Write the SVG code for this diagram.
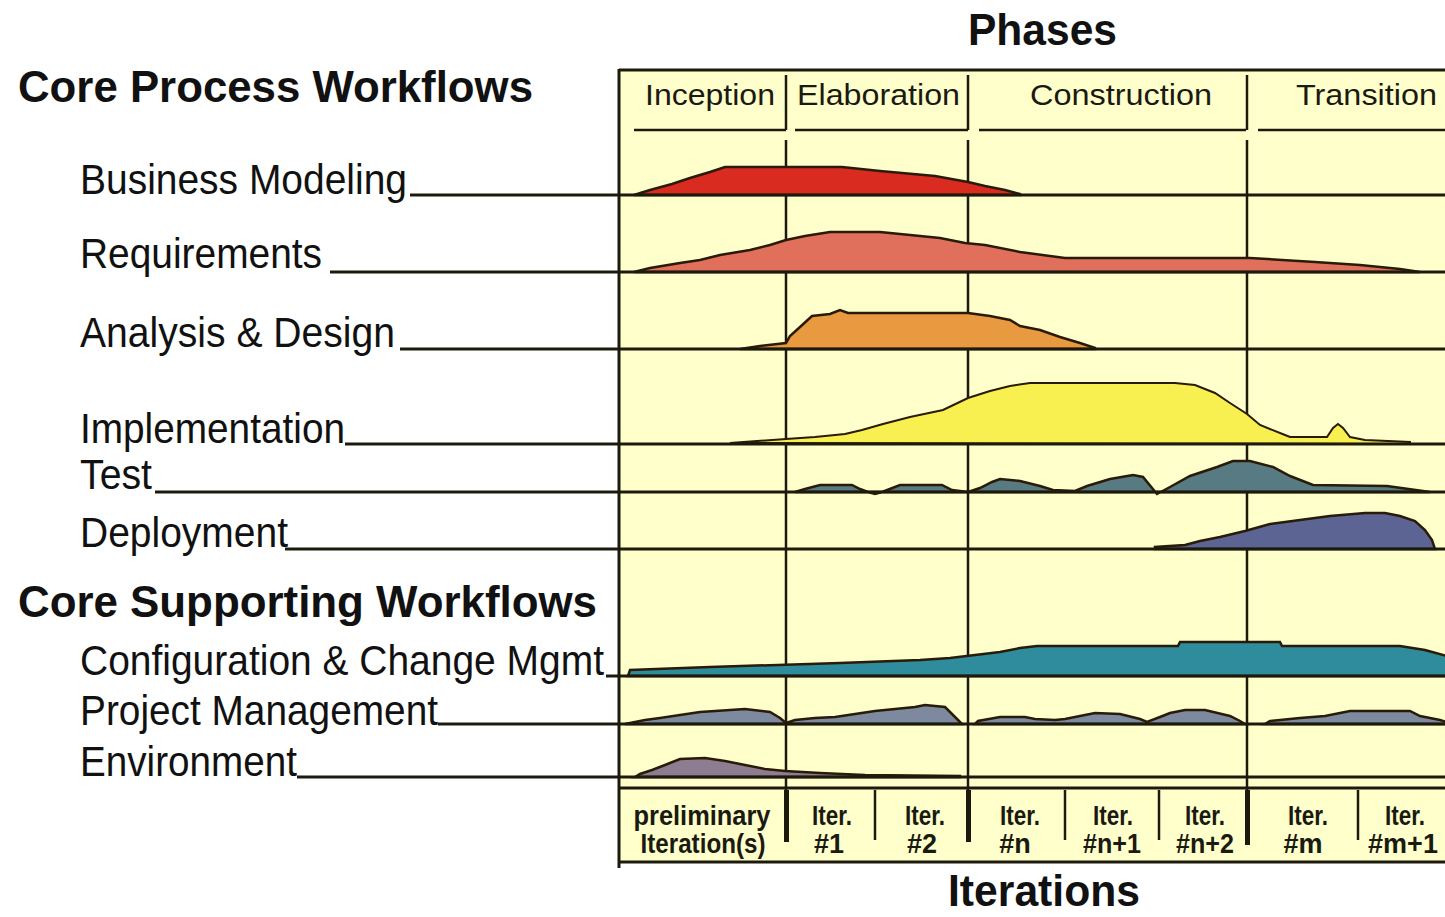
<svg xmlns="http://www.w3.org/2000/svg" width="1445" height="917" viewBox="0 0 1445 917">
<style>
.lbl{font-family:"Liberation Sans",Arial,sans-serif;font-size:42px;fill:#111;}
.hd{font-family:"Liberation Sans",Arial,sans-serif;font-size:44px;font-weight:bold;fill:#111;}
.ph{font-family:"Liberation Sans",Arial,sans-serif;font-size:29px;fill:#1a1a10;}
.it{font-family:"Liberation Sans",Arial,sans-serif;font-size:27px;font-weight:bold;fill:#1a1a10;text-anchor:middle;}
.ln{stroke:#1c1a0c;stroke-width:3;fill:none;}
.thin{stroke:#1c1a0c;stroke-width:2.5;fill:none;}
.hump{stroke:#2a1a08;stroke-width:2.5;stroke-linejoin:miter;}
</style>
<rect x="0" y="0" width="1445" height="917" fill="#ffffff"/>
<g id="chart-frame">
<rect x="619" y="70" width="830" height="792" fill="#ffffcc"/>
<line class="ln" x1="619" y1="70" x2="1445" y2="70"/>
<line class="ln" x1="619" y1="69" x2="619" y2="868"/>
<line class="ln" x1="619" y1="788" x2="1445" y2="788"/>
<line class="ln" x1="619" y1="862" x2="1445" y2="862"/>
</g>
<g id="phases">
<text class="hd" x="968" y="45" textLength="149" lengthAdjust="spacingAndGlyphs">Phases</text>
<line class="thin" x1="786" y1="75" x2="786" y2="130"/>
<line class="thin" x1="968" y1="75" x2="968" y2="130"/>
<line class="thin" x1="1247" y1="75" x2="1247" y2="130"/>
<line class="thin" x1="634" y1="130" x2="786" y2="130"/>
<line class="thin" x1="795" y1="130" x2="968" y2="130"/>
<line class="thin" x1="979" y1="130" x2="1246" y2="130"/>
<line class="thin" x1="1258" y1="130" x2="1445" y2="130"/>
<text class="ph" x="645" y="105" textLength="130" lengthAdjust="spacingAndGlyphs">Inception</text>
<text class="ph" x="797" y="105" textLength="163" lengthAdjust="spacingAndGlyphs">Elaboration</text>
<text class="ph" x="1030" y="105" textLength="182" lengthAdjust="spacingAndGlyphs">Construction</text>
<text class="ph" x="1296" y="105" textLength="141" lengthAdjust="spacingAndGlyphs">Transition</text>
<line class="thin" x1="786" y1="140" x2="786" y2="790"/>
<line class="thin" x1="968" y1="140" x2="968" y2="790"/>
<line class="thin" x1="1247" y1="140" x2="1247" y2="790"/>
</g>
<g id="headings">
<text class="hd" x="18" y="102" textLength="515" lengthAdjust="spacingAndGlyphs">Core Process Workflows</text>
<text class="hd" x="18" y="617" textLength="579" lengthAdjust="spacingAndGlyphs">Core Supporting Workflows</text>
</g>
<g id="humps">
<path id="hump-business" class="hump" fill="#d92b1f" d="M634,195 L650,190 L672,184 L690,178 L710,172 L725,167 L842,167 L880,171 L935,176 L968,182 L985,186 L1005,190 L1020,194 L1020,195 Z"/>
<path id="hump-requirements" class="hump" fill="#e0705c" d="M634,272 L650,268 L680,263 L700,260 L720,255 L750,250 L770,245 L786,240 L805,236 L830,232 L880,232 L910,235 L940,238 L965,243 L985,245 L1020,252 L1065,258 L1250,258 L1315,262 L1360,265 L1400,269 L1420,272 Z"/>
<path id="hump-analysis" class="hump" fill="#e99a40" d="M740,349 L760,346 L786,343 L790,336 L800,327 L812,316 L830,314 L840,310 L848,313 L968,313 L990,316 L1010,320 L1020,326 L1040,330 L1060,337 L1080,343 L1095,348 L1095,349 Z"/>
<path id="hump-implementation" fill="#f8f050" stroke="#2a1a08" stroke-width="2" d="M730,443 L786,439 L815,437 L845,434 L862,430 L883,424 L910,417 L943,410 L968,398 L990,391 L1010,386 L1030,383 L1175,383 L1195,385 L1215,393 L1230,403 L1247,414 L1260,425 L1285,435 L1290,437 L1327,437 L1333,428 L1338,424 L1343,428 L1350,437 L1365,440 L1410,442 L1410,444 Z"/>
<path id="hump-test" class="hump" fill="#587a82" d="M795,492 L805,489 L820,485 L852,485 L860,489 L868,492 L875,494 L882,492 L900,485 L942,485 L952,490 L968,492 L980,488 L992,482 L1000,479 L1020,481 L1040,486 L1053,490 L1075,491 L1087,486 L1110,479 L1133,475 L1143,477 L1157,494 L1170,487 L1190,476 L1217,467 L1233,461 L1250,461 L1273,467 L1290,476 L1313,485 L1387,486 L1423,491 L1430,492 Z"/>
<path id="hump-deployment" class="hump" fill="#5b6492" d="M1155,549 L1155,547 L1185,545 L1200,541 L1220,537 L1245,531 L1270,524 L1300,520 L1330,516 L1365,513 L1385,513 L1400,516 L1415,521 L1425,530 L1432,540 L1435,549 Z"/>
<path id="hump-config" class="hump" fill="#2f8c9c" d="M628,676 L630,670 L710,667 L840,663 L920,660 L950,658 L975,655 L1000,652 L1020,648 L1037,646 L1178,646 L1180,642 L1280,642 L1282,646 L1400,646 L1425,650 L1447,656 L1447,676 Z"/>
<path id="hump-pm" class="hump" fill="#7c899e" d="M625,724 L645,720 L660,718 L680,715 L700,712 L745,709 L770,712 L780,718 L786,723 L795,720 L815,718 L835,717 L855,714 L875,711 L915,707 L925,705 L945,707 L950,712 L958,720 L962,724 Z M975,724 L978,721 L1000,717 L1025,717 L1035,719 L1055,720 L1065,719 L1080,716 L1095,713 L1120,714 L1140,719 L1147,722 L1160,717 L1170,713 L1185,710 L1205,710 L1230,716 L1240,721 L1245,724 Z M1265,724 L1270,721 L1300,718 L1325,716 L1350,711 L1410,711 L1420,716 L1440,720 L1447,722 L1447,724 Z"/>
<path id="hump-environment" class="hump" fill="#8e7d90" d="M635,777 L640,774 L652,770 L665,765 L680,759 L705,758 L725,761 L745,765 L765,769 L785,771 L820,773 L865,775 L960,776 L960,777 Z"/>
</g>
<g id="connectors">
<line class="ln" x1="410" y1="195" x2="1445" y2="195"/>
<line class="ln" x1="330" y1="272" x2="1445" y2="272"/>
<line class="ln" x1="400" y1="349" x2="1445" y2="349"/>
<line class="ln" x1="345" y1="444" x2="1445" y2="444"/>
<line class="ln" x1="155" y1="492" x2="1445" y2="492"/>
<line class="ln" x1="285" y1="549" x2="1445" y2="549"/>
<line class="ln" x1="606" y1="676" x2="1445" y2="676"/>
<line class="ln" x1="438" y1="724" x2="1445" y2="724"/>
<line class="ln" x1="297" y1="777" x2="1445" y2="777"/>
</g>
<g id="wf-business"><text class="lbl" x="80" y="194" textLength="327" lengthAdjust="spacingAndGlyphs">Business Modeling</text></g>
<g id="wf-requirements"><text class="lbl" x="80" y="268" textLength="242" lengthAdjust="spacingAndGlyphs">Requirements</text></g>
<g id="wf-analysis"><text class="lbl" x="80" y="347" textLength="315" lengthAdjust="spacingAndGlyphs">Analysis &amp; Design</text></g>
<g id="wf-implementation"><text class="lbl" x="80" y="443" textLength="265" lengthAdjust="spacingAndGlyphs">Implementation</text></g>
<g id="wf-test"><text class="lbl" x="80" y="489" textLength="72" lengthAdjust="spacingAndGlyphs">Test</text></g>
<g id="wf-deployment"><text class="lbl" x="80" y="547" textLength="208" lengthAdjust="spacingAndGlyphs">Deployment</text></g>
<g id="wf-config"><text class="lbl" x="80" y="675" textLength="524" lengthAdjust="spacingAndGlyphs">Configuration &amp; Change Mgmt</text></g>
<g id="wf-pm"><text class="lbl" x="80" y="725" textLength="358" lengthAdjust="spacingAndGlyphs">Project Management</text></g>
<g id="wf-environment"><text class="lbl" x="80" y="776" textLength="217" lengthAdjust="spacingAndGlyphs">Environment</text></g>
<g id="iterations">
<rect x="784" y="790" width="5" height="52" fill="#1c1a0c"/>
<rect x="966" y="790" width="5" height="52" fill="#1c1a0c"/>
<rect x="1245" y="790" width="5" height="55" fill="#1c1a0c"/>
<line class="thin" x1="875" y1="790" x2="875" y2="840"/>
<line class="thin" x1="1065" y1="790" x2="1065" y2="840"/>
<line class="thin" x1="1159" y1="790" x2="1159" y2="840"/>
<line class="thin" x1="1358" y1="790" x2="1358" y2="840"/>
<text class="it" x="702" y="825" textLength="137" lengthAdjust="spacingAndGlyphs">preliminary</text>
<text class="it" x="703" y="853" textLength="125" lengthAdjust="spacingAndGlyphs">Iteration(s)</text>
<text class="it" x="832" y="825" textLength="40" lengthAdjust="spacingAndGlyphs">Iter.</text>
<text class="it" x="829" y="853">#1</text>
<text class="it" x="925" y="825" textLength="40" lengthAdjust="spacingAndGlyphs">Iter.</text>
<text class="it" x="922" y="853">#2</text>
<text class="it" x="1020" y="825" textLength="40" lengthAdjust="spacingAndGlyphs">Iter.</text>
<text class="it" x="1015" y="853">#n</text>
<text class="it" x="1113" y="825" textLength="40" lengthAdjust="spacingAndGlyphs">Iter.</text>
<text class="it" x="1112" y="853" textLength="58" lengthAdjust="spacingAndGlyphs">#n+1</text>
<text class="it" x="1205" y="825" textLength="40" lengthAdjust="spacingAndGlyphs">Iter.</text>
<text class="it" x="1205" y="853" textLength="58" lengthAdjust="spacingAndGlyphs">#n+2</text>
<text class="it" x="1308" y="825" textLength="40" lengthAdjust="spacingAndGlyphs">Iter.</text>
<text class="it" x="1303" y="853">#m</text>
<text class="it" x="1405" y="825" textLength="40" lengthAdjust="spacingAndGlyphs">Iter.</text>
<text class="it" x="1403" y="853" font-size="23">#m+1</text>
<text class="hd" x="948" y="906" font-size="42" textLength="192" lengthAdjust="spacingAndGlyphs">Iterations</text>
</g>
</svg>
